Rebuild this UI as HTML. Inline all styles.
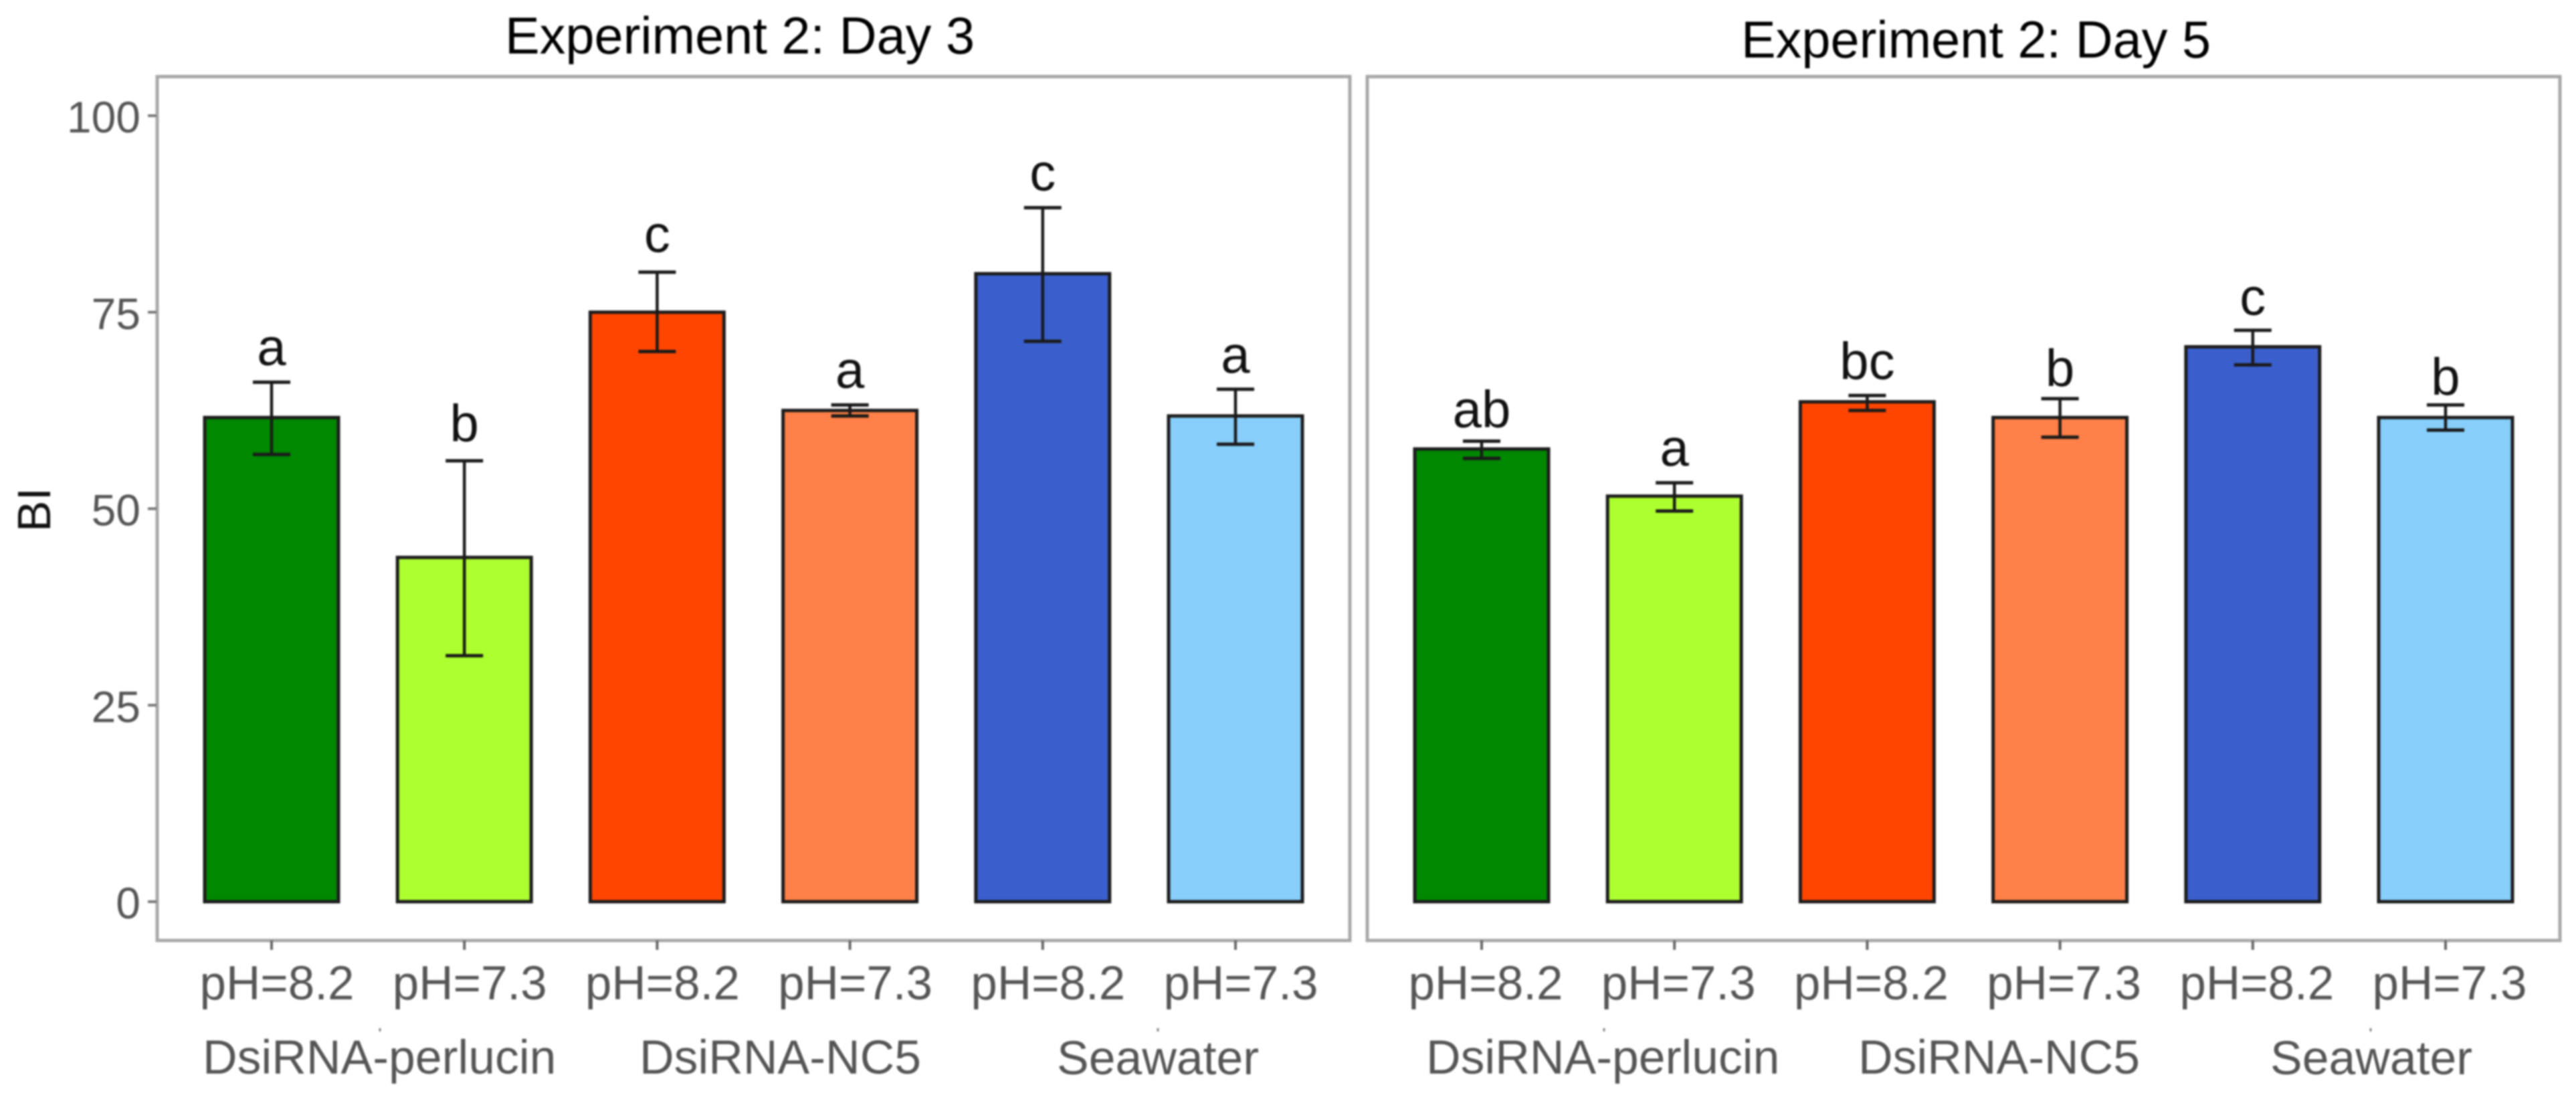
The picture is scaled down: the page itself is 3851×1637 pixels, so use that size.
<!DOCTYPE html>
<html lang="en">
<head>
<meta charset="utf-8">
<title>Experiment 2 BI bar charts</title>
<style>
  html, body { margin: 0; padding: 0; background: #fff; width: 3851px; height: 1637px; overflow: hidden; }
  svg { display: block; filter: blur(1.3px); font-family: "Liberation Sans", Arial, sans-serif; }
</style>
</head>
<body>
<svg id="chart" xmlns="http://www.w3.org/2000/svg" width="3851" height="1637" viewBox="0 0 3851 1637">
  <rect x="0" y="0" width="3851" height="1637" fill="#ffffff"/>
  <text x="1106" y="80" font-size="77.5" text-anchor="middle" fill="#000">Experiment 2: Day 3</text>
  <text x="2954" y="86" font-size="77.5" text-anchor="middle" fill="#000">Experiment 2: Day 5</text>
  <text transform="translate(75,762) rotate(-90)" font-size="70" text-anchor="middle" fill="#111">BI</text>

  <rect x="235" y="114.5" width="1783" height="1291.5" fill="none" stroke="#a8a8a8" stroke-width="5"/>
  <rect x="2044" y="114.5" width="1783" height="1291.5" fill="none" stroke="#a8a8a8" stroke-width="5"/>

  <g id="marks"></g>

  <g font-size="71.5" fill="#555" text-anchor="start">
    <text x="303" y="1605">DsiRNA-perlucin</text>
    <text x="956" y="1605">DsiRNA-NC5</text>
    <text x="1580" y="1606">Seawater</text>
    <text x="2132" y="1605">DsiRNA-perlucin</text>
    <text x="2778" y="1605">DsiRNA-NC5</text>
    <text x="3394" y="1606">Seawater</text>
  </g>
  <g stroke="#888" stroke-width="3">
    <line x1="568" x2="568" y1="1537" y2="1542"/>
    <line x1="1731" x2="1731" y1="1537" y2="1542"/>
    <line x1="2398" x2="2398" y1="1537" y2="1542"/>
    <line x1="3544" x2="3544" y1="1537" y2="1542"/>
  </g>
</svg>
<script>
const categories = ['pH=8.2', 'pH=7.3', 'pH=8.2', 'pH=7.3', 'pH=8.2', 'pH=7.3'];
const barColors = ['#008800', '#ADFF2F', '#FF4500', '#FF8048', '#3A5FCD', '#87CEFA'];
const yTicks = [0, 25, 50, 75, 100];

const day3Values = [61.6, 43.8, 75.0, 62.5, 79.9, 61.8];
const day3Upper = [66.1, 56.1, 80.1, 63.2, 88.3, 65.2];
const day3Lower = [56.9, 31.3, 70.0, 61.8, 71.3, 58.2];
const day3Letters = ['a', 'b', 'c', 'a', 'c', 'a'];
const day3LetterLevels = [68.3, 58.6, 82.7, 65.4, 90.5, 67.3];

const day5Values = [57.6, 51.6, 63.6, 61.6, 70.6, 61.6];
const day5Upper = [58.6, 53.3, 64.4, 64.0, 72.7, 63.2];
const day5Lower = [56.4, 49.7, 62.5, 59.1, 68.3, 60.0];
const day5Letters = ['ab', 'a', 'bc', 'b', 'c', 'b'];
const day5LetterLevels = [60.4, 55.5, 66.5, 65.6, 74.7, 64.5];

const NS = 'http://www.w3.org/2000/svg';
const marks = document.getElementById('marks');

function yScale(v) { return 1348 - v * 11.75; }
function xScale(i, firstCenter) { return firstCenter + i * 288.2; }
function mk(tag) {
  const el = document.createElementNS(NS, tag);
  marks.appendChild(el);
  return el;
}

function drawPanel(firstCenter, labelOffset, values, upper, lower, letters, letterLevels) {
  const barWidth = 200;
  const capHalf = 28;
  categories.forEach(function (cat, i) {
    const cx = xScale(i, firstCenter);

    const tick = mk('line');
    
    
    tick.setAttribute('x1', cx);
    tick.setAttribute('x2', cx);
    tick.setAttribute('y1', 1406);
    tick.setAttribute('y2', 1420);
    tick.setAttribute('stroke', '#666');
    tick.setAttribute('stroke-width', 4);

    const label = mk('text');
    
    
    label.setAttribute('x', cx + labelOffset);
    label.setAttribute('y', 1494);
    label.setAttribute('font-size', 71);
    label.setAttribute('text-anchor', 'middle');
    label.setAttribute('fill', '#555');
    label.textContent = cat;

    const top = yScale(values[i]);
    const bar = mk('rect');
    
    
    bar.setAttribute('x', cx - barWidth / 2);
    bar.setAttribute('y', top);
    bar.setAttribute('width', barWidth);
    bar.setAttribute('height', yScale(0) - top);
    bar.setAttribute('fill', barColors[i]);
    bar.setAttribute('stroke', '#1c1c1c');
    bar.setAttribute('stroke-width', 5);

    const yHi = yScale(upper[i]);
    const yLo = yScale(lower[i]);

    const stem = mk('line');
    
    
    stem.setAttribute('x1', cx);
    stem.setAttribute('x2', cx);
    stem.setAttribute('y1', yHi);
    stem.setAttribute('y2', yLo);
    stem.setAttribute('stroke', '#1a1a1a');
    stem.setAttribute('stroke-width', 4.5);

    const capTop = mk('line');
    
    
    capTop.setAttribute('x1', cx - capHalf);
    capTop.setAttribute('x2', cx + capHalf);
    capTop.setAttribute('y1', yHi);
    capTop.setAttribute('y2', yHi);
    capTop.setAttribute('stroke', '#1a1a1a');
    capTop.setAttribute('stroke-width', 5);

    const capBottom = mk('line');
    
    
    capBottom.setAttribute('x1', cx - capHalf);
    capBottom.setAttribute('x2', cx + capHalf);
    capBottom.setAttribute('y1', yLo);
    capBottom.setAttribute('y2', yLo);
    capBottom.setAttribute('stroke', '#1a1a1a');
    capBottom.setAttribute('stroke-width', 5);

    const letter = mk('text');
    
    
    letter.setAttribute('x', cx);
    letter.setAttribute('y', yScale(letterLevels[i]));
    letter.setAttribute('font-size', 78);
    letter.setAttribute('text-anchor', 'middle');
    letter.setAttribute('fill', '#111');
    letter.textContent = letters[i];
  });
}

yTicks.forEach(function (t) {
  const yPos = yScale(t);

  const tick = mk('line');
  
  
  tick.setAttribute('x1', 221);
  tick.setAttribute('x2', 234);
  tick.setAttribute('y1', yPos);
  tick.setAttribute('y2', yPos);
  tick.setAttribute('stroke', '#777');
  tick.setAttribute('stroke-width', 4);

  const label = mk('text');
  
  
  label.setAttribute('x', 210);
  label.setAttribute('y', yPos + 25);
  label.setAttribute('font-size', 66);
  label.setAttribute('text-anchor', 'end');
  label.setAttribute('fill', '#555');
  label.textContent = String(t);
});

drawPanel(406, 8, day3Values, day3Upper, day3Lower, day3Letters, day3LetterLevels);
drawPanel(2215, 6, day5Values, day5Upper, day5Lower, day5Letters, day5LetterLevels);
</script>
</body>
</html>
